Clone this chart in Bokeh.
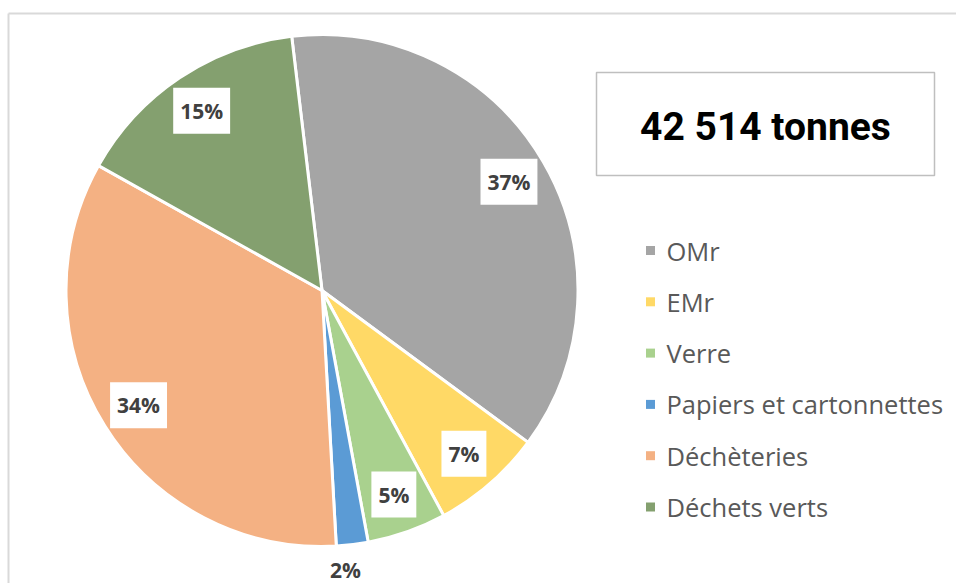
import math
from bokeh.plotting import figure
from bokeh.models import Range1d, ColumnDataSource
from bokeh.core.properties import value
from bokeh.embed import file_html
from bokeh.resources import INLINE

# ---- data ----
categories = ["OMr", "EMr", "Verre", "Papiers et cartonnettes", "Déchèteries", "Déchets verts"]
shares = [37, 7, 5, 2, 34, 15]
colors = ["#A5A5A5", "#FFD966", "#A9D18E", "#5B9BD5", "#F4B183", "#84A06F"]
total_label = "42 514 tonnes"

# ---- layout (pixel-like data space) ----
W, H = 956, 583
def px(x):  # picture x -> data x
    return x
def py(y):  # picture y -> data y
    return H - y

cx, cy, R = px(321.5), py(290), 256
first_angle = 353.2  # degrees clockwise from 12 o'clock

p = figure(width=W, height=H, x_range=Range1d(0, W), y_range=Range1d(0, H),
           output_backend="svg", toolbar_location=None, min_border=0)
p.axis.visible = False
p.grid.visible = False
p.outline_line_color = None
p.background_fill_color = "white"
p.border_fill_color = "white"

# chart area border (top and left visible)
p.segment(x0=[px(8), px(8)], y0=[py(13), py(13)], x1=[px(8), W + 20], y1=[-20, py(13)],
          line_color="#D9D9D9", line_width=2)

# ---- pie ----
tot = sum(shares)
starts, ends, mids = [], [], []
acc = first_angle
for s in shares:
    a0 = acc
    a1 = acc + 360.0 * s / tot
    starts.append(math.radians(90 - a0))
    ends.append(math.radians(90 - a1))
    mids.append(math.radians((a0 + a1) / 2))
    acc = a1

src = ColumnDataSource(dict(start=starts, end=ends, color=colors, cat=categories))
p.wedge(x=cx, y=cy, radius=R, start_angle="start", end_angle="end", direction="clock",
        fill_color="color", line_color="white", line_width=3, source=src)

# ---- data labels ----
in_x, in_y, in_t = [], [], []
out_x, out_y, out_t = [], [], []
for s, m in zip(shares, mids):
    if s < 3:
        mm = m + math.radians(2)
        out_x.append(cx + R * 1.095 * math.sin(mm))
        out_y.append(cy + R * 1.095 * math.cos(mm))
        out_t.append(f"{s}%")
    else:
        in_x.append(cx + R * 0.845 * math.sin(m))
        in_y.append(cy + R * 0.845 * math.cos(m))
        in_t.append(f"{s}%")
p.text(x=in_x, y=in_y, text=in_t, text_font=value("Open Sans"), text_font_style="bold",
       text_font_size="21px", text_color="#404040", text_align="center",
       text_baseline="middle", background_fill_color="white",
       padding=dict(left=7, right=7, top=9, bottom=9))
p.text(x=out_x, y=out_y, text=out_t, text_font=value("Open Sans"), text_font_style="bold",
       text_font_size="21px", text_color="#404040", text_align="center",
       text_baseline="middle")

# ---- total box ----
p.quad(left=px(596), right=px(934), top=py(72), bottom=py(175),
       fill_color="white", line_color="#BFBFBF", line_width=1.5)
p.text(x=[(px(596) + px(934)) / 2], y=[py(126)], text=[total_label],
       text_font=value("Roboto"), text_font_style="bold", text_font_size="39px",
       text_color="#000000", text_align="center", text_baseline="middle")

# ---- legend ----
row0, step = 250, 51.3
leg_y = [py(row0 + i * step) for i in range(len(categories))]
p.scatter(x=[px(650)] * len(categories), y=leg_y, marker="square", size=9,
          fill_color=colors, line_color=None)
p.text(x=[px(666)] * len(categories), y=leg_y, text=categories,
       text_font=value("Open Sans"), text_font_size="25.5px", text_color="#595959",
       text_align="left", text_baseline="middle")

open("out.html", "w").write(file_html(p, INLINE))
